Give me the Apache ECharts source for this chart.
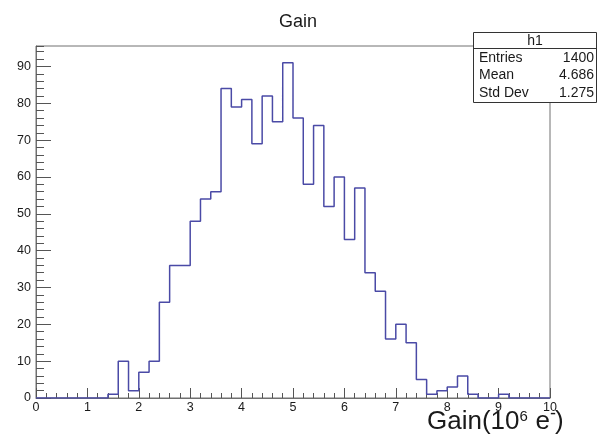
<!DOCTYPE html>
<html>
<head>
<meta charset="utf-8">
<script src="https://cdn.jsdelivr.net/npm/echarts@6/dist/echarts.min.js"></script>
<style>
  html, body { margin: 0; padding: 0; background: #ffffff; }
  #chart { width: 598px; height: 438px; }
</style>
</head>
<body>
<div id="chart"></div>
<script>
// Histogram h1: 50 bins of width 0.2 from 0 to 10
const binStart = 0;
const binWidth = 0.2;
const counts = [
  0, 0, 0, 0, 0, 0, 0, 1, 10, 2,
  7, 10, 26, 36, 36, 48, 54, 56, 84, 79,
  81, 69, 82, 75, 91, 76, 58, 74, 52, 60,
  43, 57, 34, 29, 16, 20, 15, 5, 1, 2,
  3, 6, 1, 0, 0, 1, 0, 0, 0, 0
];
const xRange = [0, 10];
const yMax = 95.55;           // 1.05 x the tallest bin
const histTitle = 'Gain';
const histName = 'h1';
const statLabels = ['Entries', 'Mean', 'Std Dev'];
const statValues = ['1400', '4.686', '1.275'];
// x-axis title pieces: [text, superscript?]
const xTitleParts = [['Gain(10', false], ['6', true], [' e', false], ['-', true], [')', false]];

// Step outline: one point per bin lower edge, plus the final upper edge
const outline = counts.map((c, i) => [binStart + i * binWidth, c]);
outline.push([binStart + counts.length * binWidth, counts[counts.length - 1]]);

const FONT = '"Liberation Sans", Arial, Helvetica, sans-serif';
const AXIS_GREY = '#707070';
const TICK_GREY = '#555555';
const TEXT = '#1a1a1a';

const chart = echarts.init(document.getElementById('chart'), null, { renderer: 'canvas' });

const statRows = statLabels.map((label, i) => ({
  type: 'group',
  children: [
    { type: 'text', style: { x: 479, y: 58 + i * 17.5, text: label, align: 'left', verticalAlign: 'middle',
        font: '14px ' + FONT, fill: TEXT } },
    { type: 'text', style: { x: 594, y: 58 + i * 17.5, text: statValues[i], align: 'right', verticalAlign: 'middle',
        font: '14px ' + FONT, fill: TEXT } }
  ]
}));

// Lay out the x-axis title as separate pieces so the superscripts sit high
const measureCtx = document.createElement('canvas').getContext('2d');
const BIG = 26, SMALL = 15, DASH = 18;
const titleBaseline = 430;
let penX = 427;
const xTitle = xTitleParts.map(([txt, sup]) => {
  const isDash = sup && txt === '-';
  const size = sup ? (isDash ? DASH : SMALL) : BIG;
  measureCtx.font = size + 'px ' + FONT;
  const w = measureCtx.measureText(txt).width;
  let baseline = titleBaseline;
  if (sup) baseline = isDash ? 420 : 422;
  const el = {
    type: 'text',
    z: 100,
    style: {
      x: penX,
      y: baseline - 0.81 * size,
      text: txt,
      align: 'left',
      verticalAlign: 'top',
      font: size + 'px ' + FONT,
      fill: TEXT
    }
  };
  penX += w + (sup ? 0.5 : 0) - (isDash ? 1.5 : 0);
  return el;
});

chart.setOption({
  animation: false,
  backgroundColor: '#ffffff',
  title: {
    text: histTitle,
    left: 274,
    top: 8,
    textStyle: { fontFamily: FONT, fontSize: 18, fontWeight: 'normal', color: TEXT }
  },
  grid: {
    left: 36, right: 48, top: 46, bottom: 40,
    containLabel: false,
    outerBoundsMode: 'none',
    show: true,
    borderColor: AXIS_GREY,
    borderWidth: 1,
    backgroundColor: '#ffffff'
  },
  xAxis: {
    type: 'value',
    min: xRange[0],
    max: xRange[1],
    interval: 1,
    axisLine: { show: true, onZero: false, lineStyle: { color: AXIS_GREY, width: 1 } },
    axisTick: { show: true, inside: true, length: 10, lineStyle: { color: TICK_GREY, width: 1 } },
    minorTick: { show: true, splitNumber: 5, length: 5, lineStyle: { color: TICK_GREY, width: 1 } },
    axisLabel: { show: true, margin: 3, fontFamily: FONT, fontSize: 12.5, color: TEXT },
    splitLine: { show: false },
    minorSplitLine: { show: false }
  },
  yAxis: [
    {
      type: 'value',
      min: 0,
      max: yMax,
      interval: 10,
      axisLine: { show: true, lineStyle: { color: AXIS_GREY, width: 1 } },
      axisTick: { show: true, inside: true, length: 15, lineStyle: { color: TICK_GREY, width: 1 } },
      axisLabel: { show: true, margin: 5, showMaxLabel: false, fontFamily: FONT, fontSize: 12.5, color: TEXT },
      splitLine: { show: false }
    },
    {
      type: 'value',
      position: 'left',
      min: 0,
      max: yMax,
      interval: 2,
      axisLine: { show: false },
      axisTick: { show: true, inside: true, length: 8, lineStyle: { color: TICK_GREY, width: 1 } },
      axisLabel: { show: false },
      splitLine: { show: false }
    }
  ],
  series: [{
    type: 'line',
    name: histName,
    step: 'end',
    data: outline,
    symbol: 'none',
    clip: true,
    lineStyle: { color: '#4a4aa6', width: 1.5 },
    z: 5
  }],
  graphic: [
    // statistics box
    {
      type: 'group',
      z: 100,
      children: [
        { type: 'rect', shape: { x: 473.5, y: 32.5, width: 123, height: 70 },
          style: { fill: '#ffffff', stroke: '#333333', lineWidth: 1 } },
        { type: 'line', shape: { x1: 473.5, y1: 48.5, x2: 596.5, y2: 48.5 },
          style: { stroke: '#333333', lineWidth: 1 } },
        { type: 'text', style: { x: 535, y: 41, text: histName, align: 'center', verticalAlign: 'middle',
            font: '14px ' + FONT, fill: TEXT } }
      ].concat(statRows)
    }
  ].concat(xTitle)
});
</script>
</body>
</html>
